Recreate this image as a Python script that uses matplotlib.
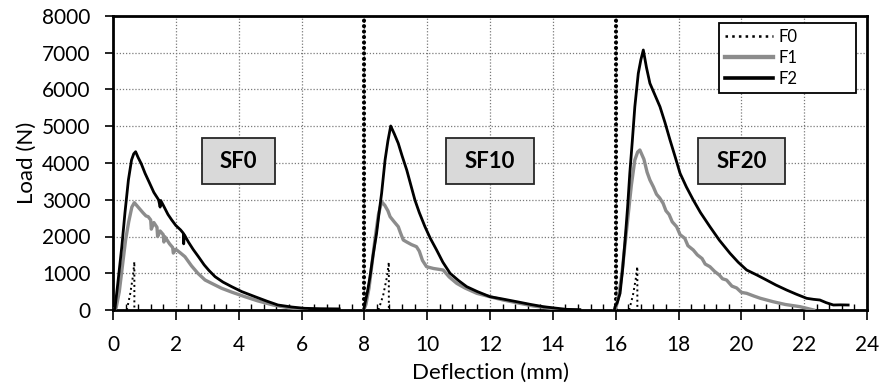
import numpy as np
import matplotlib
matplotlib.use("Agg")
import matplotlib.pyplot as plt
from matplotlib.patches import Rectangle

plt.rcParams['font.family'] = ['Lato', 'DejaVu Sans']

# ---------------- data ----------------
# SF0 group
sf0_f0_x = [0.44, 0.55, 0.64, 0.68, 0.68]
sf0_f0_y = [0, 450, 950, 1314, 0]
sf0_f1_x = [0.0, 0.1, 0.2, 0.3, 0.4, 0.5, 0.6, 0.68, 0.75, 0.85, 0.95, 1.05, 1.12, 1.2, 1.22, 1.3, 1.4, 1.42,
            1.5, 1.6, 1.62, 1.65, 1.8, 1.9, 1.92, 2.0, 2.15, 2.29, 2.5, 2.7, 2.93, 3.2, 3.46, 3.8, 4.2, 4.6,
            5.1, 5.6, 6.16]
sf0_f1_y = [0, 60, 500, 1200, 1900, 2400, 2800, 2920, 2850, 2750, 2650, 2560, 2540, 2450, 2200, 2380, 2250, 2000,
            2150, 2050, 1850, 1995, 1800, 1700, 1550, 1650, 1550, 1450, 1200, 1000, 816, 700, 590, 480, 362, 250,
            136, 60, 0]
sf0_f2_x = [0.0, 0.06, 0.15, 0.28, 0.38, 0.49, 0.59, 0.66, 0.72, 0.80, 0.9, 1.02, 1.15, 1.3, 1.45, 1.5, 1.52,
            1.6, 1.75, 1.87, 2.0, 2.15, 2.24, 2.25, 2.27, 2.4, 2.55, 2.72, 2.9, 3.05, 3.25, 3.5, 3.78, 4.1, 4.52,
            4.9, 5.25, 5.7, 6.1, 6.6, 7.2]
sf0_f2_y = [0, 30, 700, 1722, 2640, 3537, 4082, 4250, 4307, 4150, 3980, 3720, 3480, 3200, 3000, 2800, 2980,
            2850, 2600, 2449, 2300, 2180, 2087, 1800, 2050, 1850, 1650, 1450, 1230, 1080, 906, 760, 634, 500, 362,
            240, 136, 80, 46, 35, 30]

# SF10 group
sf10_f0_x = [8.45, 8.6, 8.72, 8.78, 8.78]
sf10_f0_y = [0, 400, 900, 1300, 0]
sf10_f1_x = [7.98, 8.05, 8.15, 8.25, 8.35, 8.45, 8.55, 8.65, 8.75, 8.82, 8.95, 9.08, 9.15, 9.24, 9.35, 9.5,
             9.66, 9.75, 9.85, 9.98, 10.2, 10.51, 10.7, 10.94, 11.2, 11.58, 12.0, 12.42, 12.9, 13.38, 13.9, 14.3]
sf10_f1_y = [0, 150, 600, 1300, 2000, 2600, 2947, 2850, 2700, 2539, 2400, 2267, 2100, 1905, 1850, 1780,
             1723, 1600, 1350, 1178, 1130, 1088, 900, 726, 600, 454, 360, 272, 190, 109, 50, 0]
sf10_f2_x = [7.98, 8.02, 8.1, 8.18, 8.28, 8.39, 8.47, 8.55, 8.66, 8.75, 8.84, 8.95, 9.08, 9.2, 9.35, 9.48,
             9.61, 9.75, 9.93, 10.1, 10.3, 10.5, 10.73, 11.0, 11.26, 11.6, 12.0, 12.4, 12.85, 13.3, 13.7, 14.1,
             14.44, 14.86]
sf10_f2_y = [0, 181, 500, 906, 1500, 2087, 2650, 3175, 4082, 4600, 5007, 4800, 4535, 4200, 3809, 3400,
             2993, 2650, 2267, 1950, 1633, 1300, 998, 800, 634, 500, 362, 300, 226, 150, 90, 50, 18, 10]

# SF20 group
sf20_f0_x = [16.43, 16.55, 16.64, 16.69, 16.69]
sf20_f0_y = [0, 400, 850, 1180, 0]
sf20_f1_x = [15.96, 16.02, 16.1, 16.2, 16.3, 16.4, 16.5, 16.61, 16.7, 16.77, 16.9, 17.0, 17.09, 17.2, 17.3,
             17.4, 17.51, 17.6, 17.7, 17.8, 17.94, 18.05, 18.2, 18.3, 18.47, 18.6, 18.75, 18.85, 19.0, 19.15,
             19.3, 19.4, 19.53, 19.7, 19.85, 20.0, 20.17, 20.4, 20.6, 21.01, 21.4, 21.87, 22.3]
sf20_f1_y = [0, 100, 400, 1000, 1800, 2600, 3400, 4082, 4300, 4354, 4100, 3750, 3537, 3350, 3150,
             3050, 2903, 2700, 2600, 2400, 2267, 2050, 1950, 1750, 1633, 1500, 1400, 1250, 1178, 1050,
             950, 850, 816, 650, 600, 480, 454, 380, 320, 226, 150, 90, 0]
sf20_f2_x = [15.96, 15.98, 16.05, 16.14, 16.22, 16.3, 16.38, 16.45, 16.53, 16.61, 16.72, 16.8, 16.88, 16.98,
             17.09, 17.25, 17.41, 17.57, 17.73, 17.9, 18.05, 18.25, 18.47, 18.7, 19.0, 19.3, 19.64, 19.9,
             20.17, 20.5, 20.8, 21.1, 21.44, 21.75, 22.08, 22.3, 22.5, 22.7, 22.93, 23.15, 23.4]
sf20_f2_y = [0, 90, 200, 454, 1100, 1905, 2800, 3719, 4600, 5532, 6439, 6800, 7075, 6600,
             6168, 5850, 5532, 5100, 4626, 4150, 3719, 3350, 2993, 2650, 2267, 1900, 1542, 1300,
             1088, 950, 816, 680, 544, 430, 318, 290, 272, 200, 136, 140, 136]

group_labels = ["SF0", "SF10", "SF20"]
group_centers = [4, 12, 20]
separators = [8, 16]
series_names = ["F0", "F1", "F2"]
x_ticks = list(range(0, 25, 2))
y_ticks = list(range(0, 8001, 1000))


def join(*pairs):
    xs, ys = [], []
    for x, y in pairs:
        xs += list(x) + [np.nan]
        ys += list(y) + [np.nan]
    return np.array(xs, float), np.array(ys, float)


f0_x, f0_y = join((sf0_f0_x, sf0_f0_y), (sf10_f0_x, sf10_f0_y), (sf20_f0_x, sf20_f0_y))
f1_x, f1_y = join((sf0_f1_x, sf0_f1_y), (sf10_f1_x, sf10_f1_y), (sf20_f1_x, sf20_f1_y))
f2_x, f2_y = join((sf0_f2_x, sf0_f2_y), (sf10_f2_x, sf10_f2_y), (sf20_f2_x, sf20_f2_y))

# ---------------- figure ----------------
fig = plt.figure(figsize=(8.82, 3.86), dpi=100)
ax = fig.add_axes([113 / 882, 1 - 310 / 386, 754 / 882, 294 / 386])

ax.set_xlim(0, 24)
ax.set_ylim(0, 8000)
ax.set_xticks(x_ticks)
ax.set_yticks(y_ticks)
ax.set_xticks(np.arange(0, 24.01, 0.4), minor=True)
ax.tick_params(axis='x', which='major', direction='out', length=7, width=1.2, labelsize=15, pad=11)
ax.tick_params(axis='x', which='minor', direction='in', length=4, width=1.0)
ax.tick_params(axis='y', which='major', direction='out', length=6, width=1.2, labelsize=15, pad=10)
for s in ax.spines.values():
    s.set_linewidth(2.0)

ax.grid(True, which='major', color='#7a7a7a', linestyle=(0, (1, 1.5)), linewidth=0.9, zorder=0)
ax.set_axisbelow(True)

for sx in separators:
    ax.axvline(sx, color='black', linestyle=(0, (0.01, 1.3)), linewidth=3.0,
               dash_capstyle='round', zorder=2)

ax.plot(f0_x, f0_y, color='black', linestyle=':', linewidth=1.4, label=series_names[0], zorder=4)
ax.plot(f1_x, f1_y, color='#8c8c8c', linestyle='-', linewidth=2.4, label=series_names[1], zorder=3)
ax.plot(f2_x, f2_y, color='black', linestyle='-', linewidth=2.0, label=series_names[2], zorder=5)

box_w = [2.32, 2.77, 2.77]
for lab, cx, bw in zip(group_labels, group_centers, box_w):
    ax.add_patch(Rectangle((cx - bw / 2, 4054 - 626), bw, 1252, facecolor='#d9d9d9',
                           edgecolor='#262626', linewidth=1.3, zorder=6))
    ax.text(cx, 4054, lab, ha='center', va='center', fontsize=16, fontweight='bold',
            color='black', zorder=7)

leg = ax.legend(loc='upper left', bbox_to_anchor=(0.804, 0.976, 0.181, 0.0), mode='expand',
                fontsize=12, frameon=True, fancybox=False, framealpha=1, edgecolor='black',
                handlelength=2.9, handletextpad=0.3, labelspacing=0.3, borderpad=0.35,
                borderaxespad=0)
leg.get_frame().set_linewidth(1.3)
for h in leg.get_lines():
    h.set_linewidth(h.get_linewidth() * 1.3)
leg.set_zorder(8)

ax.set_xlabel("Deflection (mm)", fontsize=16, labelpad=6)
ax.set_ylabel("Load (N)", fontsize=16, labelpad=4)

fig.savefig("out.png", dpi=100)
